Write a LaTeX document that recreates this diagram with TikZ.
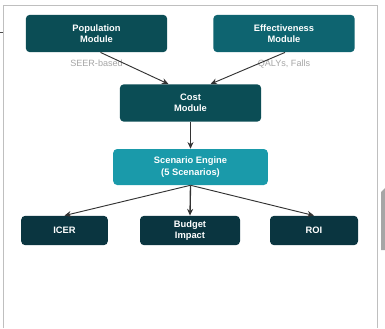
\documentclass[tikz,border=0pt]{standalone}
\usepackage{fontspec}
\setmainfont{Liberation Sans}
\usetikzlibrary{positioning,arrows.meta}
\definecolor{tealdark}{HTML}{0B4D55}
\definecolor{tealmid}{HTML}{0E6470}
\definecolor{teallight}{HTML}{1A9AAA}
\definecolor{navydark}{HTML}{0A3540}
\tikzset{
  modbox/.style={rounded corners=3pt,text=white,align=center,
    font=\fontsize{7}{8.6}\selectfont\bfseries,inner sep=0pt},
  edgelbl/.style={text=gray!70,font=\fontsize{6.8}{8}\selectfont,inner sep=0pt},
  arr/.style={-{Stealth[length=5pt,width=4.5pt]},draw=black!80,line width=0.7pt}
}
\begin{document}
\begin{tikzpicture}[x=0.75pt,y=-0.75pt]
\useasboundingbox (0,0) rectangle (385,328);
% frame of the panel
\fill[white] (3,5) rectangle (377,328);
\draw[gray!50,line width=0.6pt] (3,328) -- (3,5) -- (377,5) -- (377,328);
\draw[black!70,line width=0.6pt] (0,32) -- (3,32);
\fill[gray!70] (381,192) -- (385,188) -- (385,250) -- (381,250) -- cycle;
% modules
\node[modbox,fill=tealdark,minimum width=106pt,minimum height=28pt] (pop) at (96.5,33.5) {Population\\Module};
\node[modbox,fill=tealmid,minimum width=106pt,minimum height=28pt] (eff) at (284,33.5) {Effectiveness\\Module};
\node[modbox,fill=tealdark,minimum width=106pt,minimum height=28pt] (cost) at (190.5,103) {Cost\\Module};
\node[modbox,fill=teallight,minimum width=116pt,minimum height=27pt] (scen) at (190.5,167) {Scenario Engine\\(5 Scenarios)};
\node[modbox,fill=navydark,minimum width=65pt,minimum height=22pt] (icer) at (64.5,230.5) {ICER};
\node[modbox,fill=navydark,minimum width=75pt,minimum height=22pt] (budget) at (190,230.5) {Budget\\Impact};
\node[modbox,fill=navydark,minimum width=66pt,minimum height=22pt] (roi) at (314,230.5) {ROI};
% labels
\node[edgelbl,below=5.5pt of pop] (seer) {SEER-based};
\node[edgelbl,below=5.5pt of eff] (qaly) {QALYs, Falls};
% connectors
\draw[arr] ([xshift=3pt]pop.south) -- ([xshift=-16.5pt]cost.north);
\draw[arr] ([xshift=0.75pt]eff.south) -- ([xshift=15pt]cost.north);
\draw[arr,line width=1pt] (cost) -- (scen);
\draw[arr] (scen.south) -- (icer.north);
\draw[arr,line width=1pt] (scen.south) -- (budget.north);
\draw[arr] (scen.south) -- (roi.north);
\end{tikzpicture}
\end{document}
